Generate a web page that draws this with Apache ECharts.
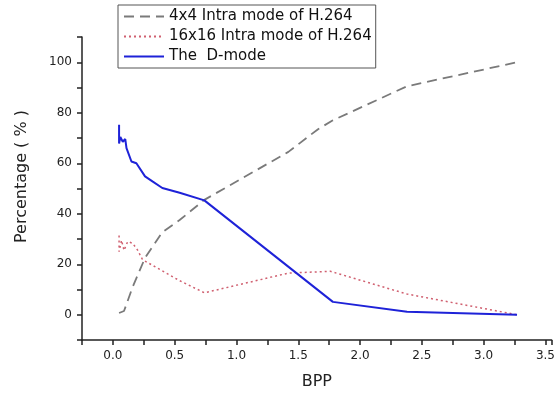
<!DOCTYPE html>
<html><head><meta charset="utf-8">
<script src="https://cdn.jsdelivr.net/npm/echarts@6/dist/echarts.min.js"></script>
<style>html,body{margin:0;padding:0;background:#fff}#c{width:558px;height:395px}</style>
</head><body><div id="c"></div>
<script>
const seriesNames = ['4x4 Intra mode of H.264', '16x16 Intra mode of H.264', 'The  D-mode'];
const intra4x4 = [[0.05,0.7],[0.09,1.5],[0.16,11],[0.26,22.5],[0.40,32.7],[0.54,37.5],[0.74,45.5],[1.42,64.5],[1.66,73.5],[1.78,77],[2.38,90.5],[3.27,100]];
const intra16x16 = [[0.05,31.4],[0.05,25],[0.07,29.5],[0.09,25.5],[0.12,29],[0.16,28.3],[0.20,25.6],[0.24,21.8],[0.54,13.5],[0.74,8.7],[1.42,16.5],[1.76,17.2],[1.98,14],[2.38,8.2],[3.27,0]];
const dMode = [[0.05,75.2],[0.05,67.8],[0.06,70.4],[0.08,68.5],[0.10,69.6],[0.11,66],[0.15,60.7],[0.19,60],[0.26,54.8],[0.32,52.8],[0.40,50.2],[0.54,48.3],[0.74,45.3],[1.78,5.1],[2.38,1.2],[3.27,0]];
const xLabels = [0, 0.5, 1, 1.5, 2, 2.5, 3, 3.5];
const yLabels = [0, 20, 40, 60, 80, 100];

const chart = echarts.init(document.getElementById('c'));
const font = 'DejaVu Sans, sans-serif';
chart.setOption({
  animation: false,
  backgroundColor: '#fff',
  textStyle: {fontFamily: font},
  legend: {
    orient: 'vertical', left: 118, top: 5,
    data: seriesNames,
    borderColor: '#555', borderWidth: 1, borderRadius: 0,
    padding: [4, 4, 4, 5], itemGap: 5, itemWidth: 40, itemHeight: 14,
    itemStyle: {opacity: 0},
    textStyle: {fontSize: 15, color: '#111', fontFamily: font}
  },
  grid: {left: 82, right: 2, top: 37, bottom: 50},
  xAxis: {
    type: 'value', min: -0.25, max: 3.55, interval: 0.25,
    name: 'BPP', nameLocation: 'middle', nameGap: 34,
    nameTextStyle: {fontSize: 16, color: '#222', fontFamily: font},
    axisLine: {onZero: false, lineStyle: {color: '#222', width: 1.5}},
    axisTick: {show: true, inside: false, length: 5, lineStyle: {color: '#222', width: 1.5}},
    splitLine: {show: false},
    axisLabel: {
      fontSize: 12, color: '#222', margin: 10,
      formatter: v => { const m = xLabels.find(l => Math.abs(l - v) < 1e-6); return m === undefined ? '' : m.toFixed(1); }
    }
  },
  yAxis: {
    type: 'value', min: -10, max: 110, interval: 10,
    name: 'Percentage ( % )', nameLocation: 'middle', nameGap: 52, nameRotate: 90,
    nameTextStyle: {fontSize: 16, color: '#222', fontFamily: font, padding: [0, 0, 0, 24]},
    axisLine: {show: true, onZero: false, lineStyle: {color: '#222', width: 1.5}},
    axisTick: {show: true, inside: false, length: 5, lineStyle: {color: '#222', width: 1.5}},
    splitLine: {show: false},
    axisLabel: {
      fontSize: 12, color: '#222', margin: 10,
      formatter: v => { const m = yLabels.find(l => Math.abs(l - v) < 1e-6); return m === undefined ? '' : String(m); }
    }
  },
  series: [
    {name: seriesNames[0], type: 'line', data: intra4x4, showSymbol: false, symbol: 'none',
     lineStyle: {color: '#7a7a7a', width: 1.8, type: [10, 6]}, itemStyle: {color: '#7a7a7a'}},
    {name: seriesNames[1], type: 'line', data: intra16x16, showSymbol: false, symbol: 'none',
     lineStyle: {color: '#d06070', width: 1.5, type: [2, 3]}, itemStyle: {color: '#d06070'}},
    {name: seriesNames[2], type: 'line', data: dMode, showSymbol: false, symbol: 'none',
     lineStyle: {color: '#1e22d8', width: 2}, itemStyle: {color: '#1e22d8'}}
  ]
});
</script></body></html>
